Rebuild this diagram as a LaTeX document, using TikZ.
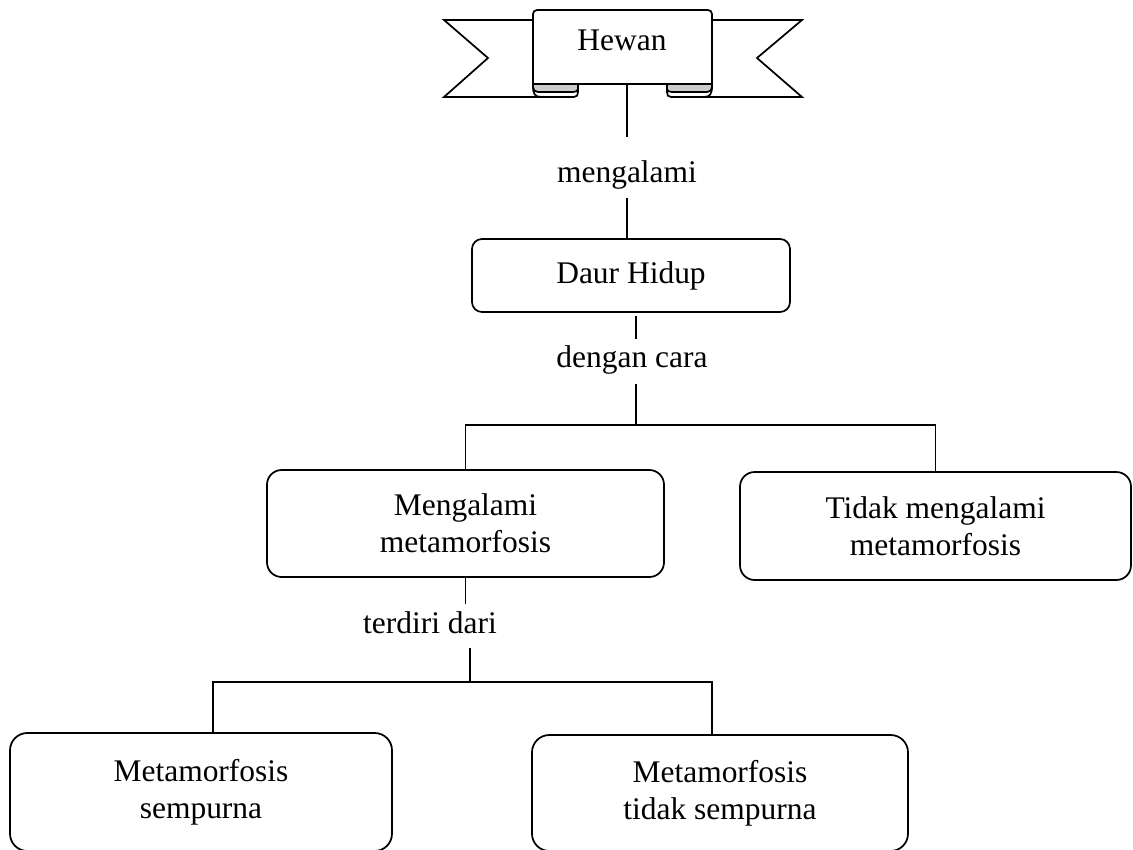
\documentclass[tikz,border=0pt]{standalone}
\usepackage{fontspec}
\setmainfont{Liberation Serif}
\begin{document}
\begin{tikzpicture}[x=0.75pt,y=-0.75pt,line width=1.3pt,
  txt/.style={font=\fontsize{23.6}{27.5}\selectfont},
  conbox/.style={draw,txt,align=center,inner sep=0pt,rounded corners=11pt},
  lbl/.style={txt,inner sep=0pt,anchor=base},
  link/.style={line width=1.3pt}]
\useasboundingbox (0,0) rectangle (1133,850);
% ---- banner ----
\draw (533,20) -- (444,20) -- (488,58) -- (444,97) -- (574,97) .. controls (577,97) and (578,95) .. (578,92) -- (578,84);
\draw (712,20) -- (802,20) -- (757,58) -- (802,97) -- (671,97) .. controls (668,97) and (667,95) .. (667,92) -- (667,84);
\draw[fill=gray!40] (533,84) -- (578,84) -- (578,89) .. controls (578,91) and (576,92) .. (573,92) -- (538,92) .. controls (535,92) and (533,90) .. (533,87) -- cycle;
\draw[fill=gray!40] (712,84) -- (667,84) -- (667,89) .. controls (667,91) and (669,92) .. (672,92) -- (707,92) .. controls (710,92) and (712,90) .. (712,87) -- cycle;
\draw (533,86) .. controls (533,94) and (535,97) .. (541,97);
\draw (712,86) .. controls (712,94) and (710,97) .. (704,97);
\draw[rounded corners=3pt] (533,86) -- (533,10) -- (712,10) -- (712,86);
\draw (533,84) -- (712,84);
\node[lbl] (hewan) at (622,50) {Hewan};
\coordinate (hewanbot) at (627,84);
% ---- boxes ----
\node[conbox,rounded corners=7.5pt,minimum width=238.5pt,minimum height=54.75pt] (daur) at (631,275.5) {Daur Hidup};
\node[conbox,minimum width=297.75pt,minimum height=80.25pt] (meta) at (465.5,523.5) {Mengalami\\metamorfosis};
\node[conbox,minimum width=293.25pt,minimum height=81pt] (tidak) at (935.5,526) {Tidak mengalami\\metamorfosis};
\node[conbox,rounded corners=13pt,minimum width=286.5pt,minimum height=88.5pt] (semp) at (201,792) {Metamorfosis\\sempurna};
\node[conbox,rounded corners=13pt,minimum width=282pt,minimum height=87pt] (tsemp) at (720,793) {Metamorfosis\\tidak sempurna};
% ---- labels ----
\node[lbl] (lab1) at (627,182) {mengalami};
\node[lbl] (lab2) at (632,367) {dengan cara};
\node[lbl] (lab3) at (430,633) {terdiri dari};
\coordinate (j1) at (636,425);
\coordinate (j2) at (470,682);
% ---- connectors ----
\draw[link,shorten >=16.9pt] (hewanbot) -- (hewanbot |- lab1.north);
\draw[link,shorten <=6pt] (lab1.south) -- (lab1.south |- daur.north);
\draw[link,shorten <=2pt,shorten >=4pt] (daur.south -| j1) -- (lab2.north -| j1);
\draw[link,shorten <=7pt] (lab2.south -| j1) -- (j1);
\draw[link] (meta.north) |- (j1) -| (tidak.north);
\draw[link,shorten >=5pt] (meta.south) -- (meta.south |- lab3.north);
\draw[link,shorten <=10.5pt] (lab3.south -| j2) -- (j2);
\draw[link] ([xshift=9pt]semp.north) |- (j2) -| ([xshift=-6pt]tsemp.north);
\end{tikzpicture}
\end{document}
